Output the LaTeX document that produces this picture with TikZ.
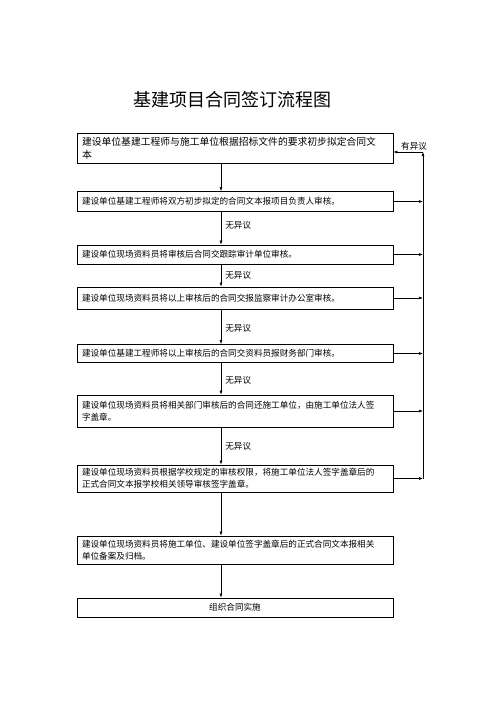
\documentclass[tikz,border=0pt]{standalone}
\usepackage{fontspec}
\newfontfamily\cjk{Noto Sans CJK SC}
\usetikzlibrary{arrows.meta}

\begin{document}
\begin{tikzpicture}[x=1pt,y=-1pt,
  procbox/.style={draw=black,line width=0.8pt,minimum width=316pt,text width=306pt,
    inner xsep=5pt,inner ysep=1pt,align=left,font=\cjk\fontsize{8.6}{12}\selectfont},
  note/.style={font=\cjk\fontsize{8.6}{10}\selectfont,right,inner xsep=4pt},
  flow/.style={-{Latex[length=4pt,width=3pt]},line width=0.6pt}]
  \useasboundingbox (0,0) rectangle (500,707);

  \node[font=\cjk\fontsize{18}{20}\selectfont] (title) at (232,100) {基建项目合同签订流程图};

  \node[procbox,minimum height=30pt,font=\cjk\fontsize{9.8}{13}\selectfont] (b1) at (235,148)
    {建设单位基建工程师与施工单位根据招标文件的要求初步拟定合同文\\本};
  \node[procbox,minimum height=20pt] (b2) at (235,201.5)
    {建设单位基建工程师将双方初步拟定的合同文本报项目负责人审核。};
  \node[procbox,minimum height=19pt] (b3) at (235,254.5)
    {建设单位现场资料员将审核后合同交跟踪审计单位审核。};
  \node[procbox,minimum height=22pt] (b4) at (235,298)
    {建设单位现场资料员将以上审核后的合同交报监察审计办公室审核。};
  \node[procbox,minimum height=18pt] (b5) at (235,353.5)
    {建设单位基建工程师将以上审核后的合同交资料员报财务部门审核。};
  \node[procbox,minimum height=32pt] (b6) at (235,411)
    {建设单位现场资料员将相关部门审核后的合同还施工单位，由施工单位法人签\\字盖章。};
  \node[procbox,minimum height=27pt] (b7) at (235,478.5)
    {建设单位现场资料员根据学校规定的审核权限，将施工单位法人签字盖章后的\\正式合同文本报学校相关领导审核签字盖章。};
  \node[procbox,minimum height=28pt] (b8) at (235,550)
    {建设单位现场资料员将施工单位、建设单位签字盖章后的正式合同文本报相关\\单位备案及归档。};
  \node[procbox,minimum height=19pt,align=center] (b9) at (235,607.5) {组织合同实施};

  \coordinate (spine) at (221,0);
  \coordinate (rail) at (423,0);

  % main flow
  \draw[flow] (b1.south -| spine) -- (b2.north -| spine);
  \draw[flow] (b2.south -| spine) -- node[note,pos=0.4] {无异议} (b3.north -| spine);
  \draw[flow] (b3.south -| spine) -- node[note] {无异议} (b4.north -| spine);
  \draw[flow] (b4.south -| spine) -- node[note,pos=0.55] {无异议} (b5.north -| spine);
  \draw[flow] (b5.south -| spine) -- node[note,pos=0.55] {无异议} (b6.north -| spine);
  \draw[flow] (b6.south -| spine) -- node[note] {无异议} (b7.north -| spine);
  \draw[flow] (b7.south -| spine) -- (b8.north -| spine);
  \draw[flow] (b8.south -| spine) -- (b9.north -| spine);

  % objections go back
  \foreach \b in {b2,b3,b4,b5,b6,b7}
    \draw[flow] (\b.east) -- (\b.east -| rail);
  \draw[flow] (b7.east -| rail) -- ([yshift=-4pt]b1.east -| rail);
  \draw[flow] ([yshift=-4pt]b1.east -| rail) -- node[above,pos=0.3,inner sep=1pt,font=\cjk\fontsize{8.6}{10}\selectfont] {有异议} ([yshift=-4pt]b1.east);
\end{tikzpicture}
\end{document}
